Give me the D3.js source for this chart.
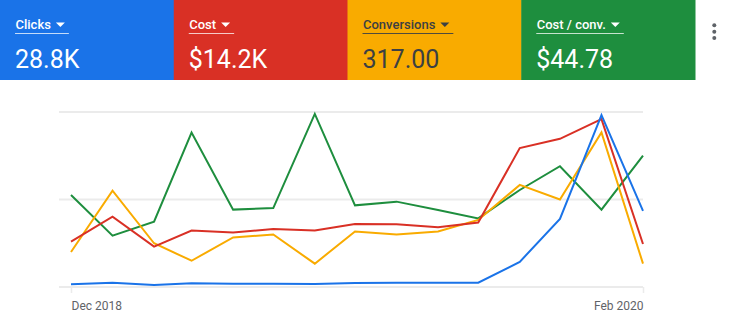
<!DOCTYPE html>
<html>
<head>
<meta charset="utf-8">
<script src="https://cdn.jsdelivr.net/npm/d3@7/dist/d3.min.js"></script>
<style>
  html, body { margin: 0; padding: 0; background: #fff; }
  svg { display: block; font-family: Roboto, "Noto Sans", Arial, sans-serif; }
</style>
</head>
<body>
<svg id="chart" width="734" height="326"></svg>
<script>
// Monthly points, Dec 2018 – Feb 2020
const months = ["2018-12","2019-01","2019-02","2019-03","2019-04","2019-05","2019-06",
                "2019-07","2019-08","2019-09","2019-10","2019-11","2019-12","2020-01","2020-02"];

// Metric names, totals shown in the scorecards
const metricNames  = ["Clicks", "Cost", "Conversions", "Cost / conv."];
const metricTotals = ["28.8K", "$14.2K", "317.00", "$44.78"];

// Series values per month
const clicks      = [205, 325, 150, 280, 250, 250, 225, 300, 320, 320, 320, 1900, 5150, 13000, 5760];
const cost        = [570, 885, 507, 709, 684, 730, 709, 793, 789, 752, 810, 1746, 1863, 2111, 541];
const conversions = [12, 33, 15, 9, 17, 18, 8, 19, 18, 19, 23, 35, 30, 53, 8];
const costPerConv = [47.3, 26.4, 33.6, 79.4, 39.8, 40.6, 89.0, 42.0, 43.9, 39.6, 35.3, 49.9, 62.1, 39.8, 67.6];

// Each metric has its own hidden value axis (upper bound)
const axisMax = [13230, 2200, 60, 90];

// Axis labels shown under the chart
const tickLabels = ["Dec 2018", "Feb 2020"];

const series = [clicks, cost, conversions, costPerConv];
const tileColors = ["#1a73e8", "#d93025", "#f9ab00", "#1e8e3e"];
const tileText   = ["#ffffff", "#ffffff", "#3c4043", "#ffffff"];
const lineColors = ["#1a73e8", "#d93025", "#f9ab00", "#1e8e3e"];

const svg = d3.select("#chart");
const parse = d3.timeParse("%Y-%m");
const dates = months.map(parse);

// ---- Scorecard tiles ----
const tileW = 173.75, tileH = 80;
const tiles = svg.selectAll("g.tile").data(metricNames).join("g")
  .attr("class", "tile")
  .attr("transform", (d, i) => `translate(${i * tileW},0)`);

tiles.append("rect")
  .attr("width", tileW + 0.5).attr("height", tileH)
  .attr("fill", (d, i) => tileColors[i]);

tiles.each(function(d, i) {
  const g = d3.select(this);
  const label = g.append("text")
    .attr("x", 15.5).attr("y", 29)
    .attr("fill", tileText[i])
    .attr("font-size", 13).attr("font-weight", 500)
    .text(d);
  const w = label.node().getComputedTextLength();
  const tx = 15.5 + w + 5;
  g.append("path")
    .attr("d", `M${tx},22.5 L${tx + 9},22.5 L${tx + 4.5},27 Z`)
    .attr("fill", tileText[i]);
  g.append("line")
    .attr("x1", 15).attr("x2", tx + 13)
    .attr("y1", 33.5).attr("y2", 33.5)
    .attr("stroke", tileText[i])
    .attr("stroke-opacity", i === 2 ? 0.9 : 0.75)
    .attr("stroke-width", 1);
  g.append("text")
    .attr("x", 15).attr("y", 68)
    .attr("fill", tileText[i])
    .attr("font-size", 25)
    .text(metricTotals[i]);
});

// Overflow menu (three dots)
svg.append("g").selectAll("circle").data([25.3, 31.7, 38]).join("circle")
  .attr("cx", 714.3).attr("cy", d => d).attr("r", 2)
  .attr("fill", "#5f6368");

// ---- Line chart ----
const plotTop = 112, plotBottom = 287;
const x = d3.scaleTime()
  .domain(d3.extent(dates))
  .range([71, 643]);

const yScales = axisMax.map(m => d3.scaleLinear().domain([0, m]).range([plotBottom, plotTop]));

// Gridlines
const gridY = [plotTop, (plotTop + plotBottom) / 2];
svg.append("g").selectAll("line").data(gridY).join("line")
  .attr("x1", 59).attr("x2", 643)
  .attr("y1", d => d).attr("y2", d => d)
  .attr("stroke", "#ebebeb").attr("stroke-width", 2);

// Bottom axis with the first and last month labelled
const xAxis = d3.axisBottom(x)
  .tickValues([dates[0], dates[dates.length - 1]])
  .tickFormat((d, i) => tickLabels[i])
  .tickSize(6).tickSizeOuter(0);

const axisG = svg.append("g")
  .attr("transform", `translate(0,${plotBottom})`)
  .call(xAxis);
axisG.select(".domain").remove();
axisG.append("line")
  .attr("x1", 59).attr("x2", 643).attr("y1", 0).attr("y2", 0)
  .attr("stroke", "#ebebeb").attr("stroke-width", 2);
axisG.selectAll(".tick line").attr("stroke", "#ebebeb").attr("stroke-width", 1.5);
axisG.selectAll(".tick text")
  .attr("fill", "#5f6368").attr("font-size", 12)
  .attr("font-family", "Roboto, sans-serif")
  .attr("dy", "1.15em")
  .attr("text-anchor", (d, i) => i === 0 ? "start" : "end");

// Series lines (drawn back to front: green, yellow, red, blue)
const drawOrder = [3, 2, 1, 0];
svg.append("g").selectAll("path").data(drawOrder).join("path")
  .attr("fill", "none")
  .attr("stroke", i => lineColors[i])
  .attr("stroke-width", 2)
  .attr("stroke-linejoin", "miter")
  .attr("d", i => d3.line()
      .x((v, j) => x(dates[j]))
      .y(v => yScales[i](v))(series[i]));
</script>
</body>
</html>
